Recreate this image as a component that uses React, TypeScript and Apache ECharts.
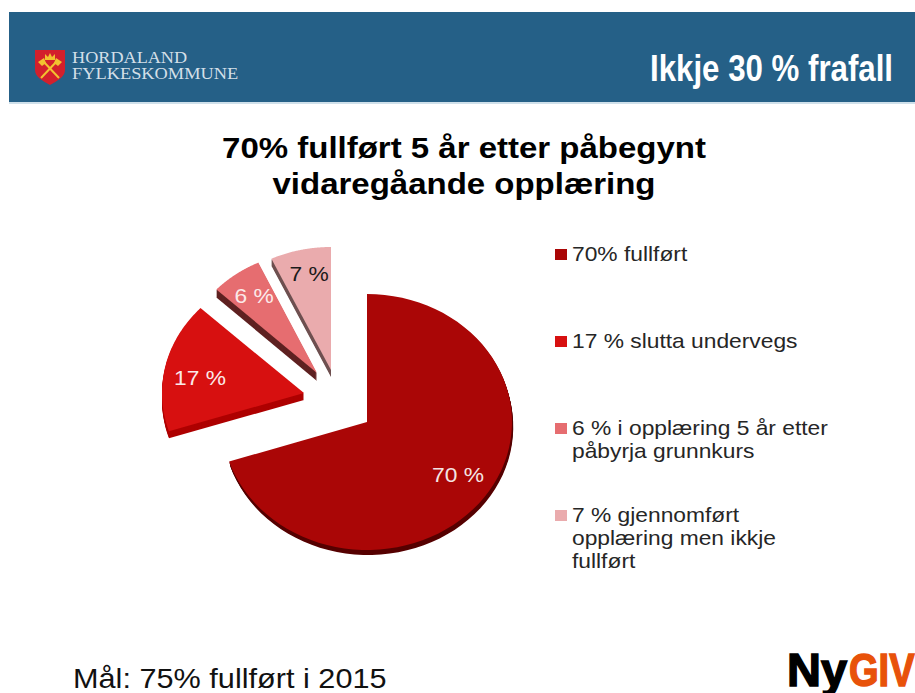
import React, { useEffect, useRef } from "react";
import * as echarts from "echarts";

const sliceNames = [
  "70% fullført",
  "17 % slutta undervegs",
  "6 % i opplæring 5 år etter påbyrja grunnkurs",
  "7 % gjennomført opplæring men ikkje fullført",
];
const legendLines = [
  ["70% fullført"],
  ["17 % slutta undervegs"],
  ["6 % i opplæring 5 år etter", "påbyrja grunnkurs"],
  ["7 % gjennomført", "opplæring men ikkje", "fullført"],
];
const sliceValues = [70, 17, 6, 7];
const sliceLabels = ["70 %", "17 %", "6 %", "7 %"];
const titleText = "70% fullført 5 år etter påbegynt\nvidaregåande opplæring";
const headerText = "Ikkje 30 % frafall";
const goalText = "Mål: 75% fullført i 2015";

const topColors = ["#AA0606", "#D71010", "#E66D70", "#EAABAD"];
const sideColors = ["#560000", "#AE0000", "#5F2222", "#6E5050"];
const labelColors = ["#F4E4E4", "#FBE9E9", "#FBE9E9", "#1A1A1A"];
const sliceCentres = [[367, 422], [304, 393], [317, 373], [331, 370]];
const sliceDepths = [5, 7, 8, 7];
const sideShiftX = [0.25, 0, 0, 0];
const sliceRx = [145, 142, 138, 140];
const sliceRy = [128, 124, 122, 123];
const labelNudges = [[3, -3], [0, 6], [-2, -3], [1, -5]];
const legendTops = [243, 330, 417, 504];
const LINE = 23;
const WIDE_BODY = 1.14;
const WIDE_TITLE = 1.1;

const total = sliceValues.reduce((a, b) => a + b, 0);
const FONT = '"Liberation Sans", Arial, sans-serif';

echarts.graphic.registerShape(
  "hfkShield",
  echarts.graphic.extendPath("M0 0H30V20C30 27 22 31 15 35C8 31 0 27 0 20Z", {}) as any
);

function sliceRenderer(index: number) {
  return (_params: any, api: any) => {
    const value = api.value(0);
    const before = sliceValues.slice(0, index).reduce((a, b) => a + b, 0);
    const start = (before / total) * Math.PI * 2;
    const end = ((before + value) / total) * Math.PI * 2;
    const [cx, cy] = sliceCentres[index];
    const rx = sliceRx[index];
    const ry = sliceRy[index];
    const pts: number[][] = [[cx, cy]];
    const steps = 72;
    for (let i = 0; i <= steps; i++) {
      const a = start + ((end - start) * i) / steps;
      pts.push([cx + rx * Math.sin(a), cy - ry * Math.cos(a)]);
    }
    const children: any[] = [];
    for (let d = sliceDepths[index]; d >= 1; d--) {
      children.push({
        type: "polygon",
        shape: { points: pts.map(([x, y]) => [x + d * sideShiftX[index], y + d]) },
        style: { fill: sideColors[index] },
      });
    }
    children.push({
      type: "polygon",
      shape: { points: pts },
      style: { fill: topColors[index] },
    });
    const mid = (start + end) / 2;
    children.push({
      type: "text",
      x: cx + rx * 0.75 * Math.sin(mid) + labelNudges[index][0],
      y: cy - ry * 0.75 * Math.cos(mid) + labelNudges[index][1],
      scaleX: WIDE_BODY,
      style: {
        text: sliceLabels[index],
        fill: labelColors[index],
        font: `20px ${FONT}`,
        align: "center",
        verticalAlign: "middle",
      },
    });
    return { type: "group", children };
  };
}

function legendIcon(lines: number) {
  const h = lines * LINE;
  return `path://M0 6H11V17H0Z M0 0H0.01V0.01H0Z M0 ${h - 0.01}H0.01V${h}H0Z`;
}

// The source slide is stretched sideways; legend and title texts have no scale option of their own.
function widenTexts(chart: any) {
  const wide: Record<string, number> = { [titleText]: WIDE_TITLE };
  legendLines.forEach((l) => (wide[l.join("\n")] = WIDE_BODY));
  const zr = chart.getZr();
  zr.storage.getRoots().forEach((root: any) =>
    root.traverse((el: any) => {
      const t = el.style && el.style.text;
      if (el.type === "text" && wide[t]) {
        el.originX = el.style.x || 0;
        el.scaleX = wide[t];
        el.markRedraw();
      }
    })
  );
  zr.refreshImmediately();
}

export default function App() {
  const ref = useRef<HTMLDivElement>(null);
  useEffect(() => {
    document.body.style.margin = "0";
    const chart = echarts.init(ref.current!, undefined, { renderer: "svg" });
    chart.setOption({
      animation: false,
      backgroundColor: "#fff",
      title: {
        text: titleText,
        left: 459,
        top: 125,
        textAlign: "center",
        textStyle: {
          fontFamily: FONT,
          fontSize: 30,
          fontWeight: "bold",
          lineHeight: 36,
          color: "#000",
        },
      },
      legend: legendLines.map((lines, i) => ({
        data: [sliceNames[i]],
        left: 555,
        top: legendTops[i],
        orient: "vertical",
        padding: 0,
        icon: legendIcon(lines.length),
        symbolKeepAspect: false,
        itemWidth: 12,
        itemHeight: lines.length * LINE,
        selectedMode: false,
        formatter: () => lines.join("\n"),
        textStyle: {
          fontFamily: FONT,
          fontSize: 20,
          lineHeight: LINE,
          color: "#262626",
        },
        itemStyle: { borderWidth: 0 },
      })),
      series: sliceValues.map((v, i) => ({
        type: "custom",
        name: sliceNames[i],
        coordinateSystem: "none",
        silent: true,
        clip: false,
        itemStyle: { color: topColors[i] },
        data: [[v]],
        renderItem: sliceRenderer(i),
      })),
      graphic: [
        { type: "rect", shape: { x: 9, y: 12, width: 906, height: 90 }, style: { fill: "#256087" } },
        { type: "rect", shape: { x: 9, y: 102, width: 906, height: 2 }, style: { fill: "#CFE0EA" } },
        { type: "hfkShield", x: 35, y: 50, style: { fill: "#D3202C" } },
        { type: "line", shape: { x1: 42, y1: 60, x2: 59, y2: 78 }, style: { stroke: "#F2C230", lineWidth: 2 } },
        { type: "line", shape: { x1: 58, y1: 60, x2: 41, y2: 78 }, style: { stroke: "#F2C230", lineWidth: 2 } },
        { type: "polygon", shape: { points: [[38, 62], [44, 58], [46, 63], [42, 66]] }, style: { fill: "#F2C230" } },
        { type: "polygon", shape: { points: [[62, 62], [56, 58], [54, 63], [58, 66]] }, style: { fill: "#F2C230" } },
        { type: "polygon", shape: { points: [[45, 60], [45, 54], [48, 57], [50, 53], [52, 57], [55, 54], [55, 60]] }, style: { fill: "#F2C230" } },
        { type: "text", x: 72, y: 49, scaleX: 1.07, style: { text: "HORDALAND", fill: "#D3DFE8", font: '17px "Liberation Serif", serif' } },
        { type: "text", x: 72, y: 65, scaleX: 1.08, style: { text: "FYLKESKOMMUNE", fill: "#D3DFE8", font: '17px "Liberation Serif", serif' } },
        { type: "text", x: 650, y: 50, scaleX: 0.868, style: { text: headerText, fill: "#fff", font: `bold 36px ${FONT}` } },
        { type: "text", x: 73, y: 664, scaleX: 1.095, style: { text: goalText, fill: "#111", font: `28px ${FONT}` } },
        { type: "text", x: 787, y: 646, style: { text: "Ny", fill: "#000", stroke: "#000", lineWidth: 1.5, font: `bold 47px ${FONT}` } },
        { type: "text", x: 849, y: 646, scaleX: 0.81, style: { text: "GIV", fill: "#E8520A", stroke: "#E8520A", lineWidth: 1.5, font: `bold 47px ${FONT}` } },
      ],
    });
    widenTexts(chart);
    return () => chart.dispose();
  }, []);
  return <div ref={ref} style={{ width: 915, height: 693, overflow: "hidden" }} />;
}
